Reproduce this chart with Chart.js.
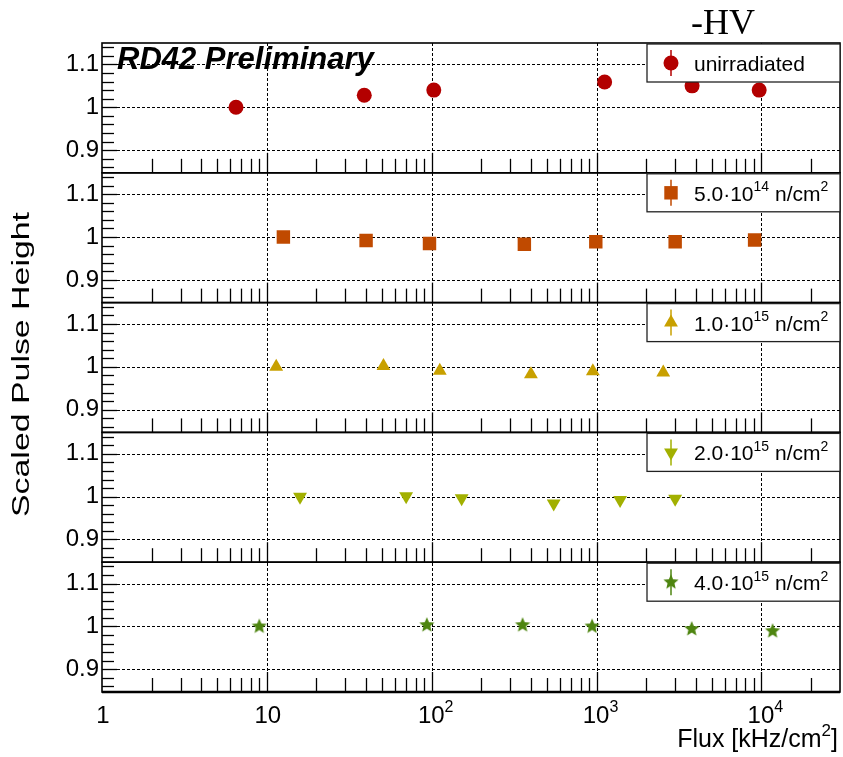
<!DOCTYPE html>
<html>
<head>
<meta charset="utf-8">
<title>Scaled pulse height vs flux</title>
<script src="https://cdn.jsdelivr.net/npm/chart.js@4.4.1/dist/chart.umd.min.js"></script>
<style>
  html, body { margin: 0; padding: 0; background: #fff; }
  canvas { display: block; }
</style>
</head>
<body>
<canvas id="phChart" width="843" height="757"></canvas>
<script>
// one panel per fluence, top to bottom
var fluenceLabels = ['unirradiated', '5.0·10^{14} n/cm^{2}', '1.0·10^{15} n/cm^{2}', '2.0·10^{15} n/cm^{2}', '4.0·10^{15} n/cm^{2}'];

// flux [kHz/cm2] and scaled pulse height
var fluxUnirr = [6.5, 39, 103, 1120, 3800, 9700];
var phUnirr   = [1.000, 1.028, 1.040, 1.059, 1.050, 1.040];
var flux5e14  = [12.6, 40, 97, 365, 990, 3000, 9100];
var ph5e14    = [1.000, 0.992, 0.985, 0.983, 0.989, 0.989, 0.993];
var flux1e15  = [11.4, 51, 112, 400, 950, 2540];
var ph1e15    = [1.000, 1.002, 0.991, 0.983, 0.990, 0.987];
var flux2e15  = [15.9, 70, 152, 550, 1390, 3000];
var ph2e15    = [1.000, 1.001, 0.996, 0.984, 0.992, 0.995];
var flux4e15  = [9.0, 93.5, 356, 940, 3780, 11700];
var ph4e15    = [1.000, 1.003, 1.003, 1.000, 0.994, 0.989];

var xTickValues = [1, 10, 100, 1000, 10000];
var xTickLabels = ['1', '10', '10^{2}', '10^{3}', '10^{4}'];
var yTickValues = [0.9, 1, 1.1];

var FONT = '"Liberation Sans", Arial, Helvetica, sans-serif';
var X_MIN = 1, X_MAX = 30000, Y_MIN = 0.847, Y_MAX = 1.15;

function starImage(color, r) {
    var c = document.createElement('canvas');
    c.width = c.height = 2 * r + 2;
    var g = c.getContext('2d');
    g.fillStyle = color;
    g.beginPath();
    for (var i = 0; i < 10; i++) {
        var a = -Math.PI / 2 + i * Math.PI / 5;
        var rr = i % 2 ? r * 0.45 : r;
        g.lineTo(c.width / 2 + rr * Math.cos(a), c.height / 2 + rr * Math.sin(a));
    }
    g.closePath();
    g.fill();
    return c;
}

var panels = [
    {flux: fluxUnirr, ph: phUnirr, color: '#b30000', style: 'circle', radius: 7.5, rot: 0},
    {flux: flux5e14, ph: ph5e14, color: '#c04a00', style: 'rect', radius: 9.5, rot: 0},
    {flux: flux1e15, ph: ph1e15, color: '#c8a000', style: 'triangle', radius: 8, rot: 0},
    {flux: flux2e15, ph: ph2e15, color: '#a2b000', style: 'triangle', radius: 8, rot: 180},
    {flux: flux4e15, ph: ph4e15, color: '#4e8510', style: starImage('#4e8510', 8), radius: 8, rot: 0}
];

// text with ^{...} superscripts
function richParts(str) {
    var parts = [], re = /\^\{([^}]*)\}/g, last = 0, m;
    while ((m = re.exec(str)) !== null) {
        if (m.index > last) parts.push({t: str.slice(last, m.index), sup: false});
        parts.push({t: m[1], sup: true});
        last = re.lastIndex;
    }
    if (last < str.length) parts.push({t: str.slice(last), sup: false});
    return parts;
}

function drawRich(ctx, str, x, y, size, align) {
    var parts = richParts(str), supSize = Math.round(size * 0.68), w = 0;
    parts.forEach(function(p) {
        ctx.font = (p.sup ? supSize : size) + 'px ' + FONT;
        p.w = ctx.measureText(p.t).width;
        w += p.w;
    });
    var cx = align === 'right' ? x - w : (align === 'center' ? x - w / 2 : x);
    ctx.textAlign = 'left';
    ctx.textBaseline = 'alphabetic';
    parts.forEach(function(p) {
        ctx.font = (p.sup ? supSize : size) + 'px ' + FONT;
        ctx.fillText(p.t, cx, p.sup ? y - size * 0.45 : y);
        cx += p.w;
    });
}

function line(ctx, x1, y1, x2, y2) {
    ctx.beginPath();
    ctx.moveTo(x1, y1);
    ctx.lineTo(x2, y2);
    ctx.stroke();
}

var panelPlugin = {
    id: 'panelDecor',
    beforeDatasetsDraw: function(chart) {
        var ctx = chart.ctx, xs = chart.scales.x, area = chart.chartArea;
        ctx.save();
        ctx.strokeStyle = '#000';
        // dotted grid
        ctx.lineWidth = 1;
        ctx.setLineDash([3, 2]);
        for (var i = 0; i < panels.length; i++) {
            var ys = chart.scales['y' + i];
            yTickValues.forEach(function(v) {
                var py = Math.round(ys.getPixelForValue(v)) + 0.5;
                line(ctx, area.left, py, area.right, py);
            });
        }
        xTickValues.forEach(function(v) {
            if (v <= X_MIN) return;
            var px = Math.round(xs.getPixelForValue(v)) + 0.5;
            line(ctx, px, area.top, px, area.bottom);
        });
        ctx.setLineDash([]);
        // ticks and frames, ROOT style
        for (var i = 0; i < panels.length; i++) {
            var ys = chart.scales['y' + i];
            ctx.lineWidth = 1.3;
            for (var d = 0; d <= 4; d++) {
                for (var k = 1; k <= 9; k++) {
                    var v = k * Math.pow(10, d);
                    if (v <= X_MIN || v >= X_MAX) continue;
                    var px = Math.round(xs.getPixelForValue(v)) + 0.5;
                    line(ctx, px, ys.bottom, px, ys.bottom - (k === 1 ? 20 : 14));
                }
            }
            for (var n = 43; n <= 57; n++) {
                var py = Math.round(ys.getPixelForValue(n * 0.02)) + 0.5;
                line(ctx, area.left, py, area.left + (n % 5 === 0 ? 15 : 12), py);
            }
            ctx.lineWidth = 1.6;
            ctx.strokeRect(area.left, ys.top, area.right - area.left, ys.bottom - ys.top);
        }
        ctx.lineWidth = 2.5;
        line(ctx, area.left, area.bottom, area.right, area.bottom);
        ctx.restore();
    },
    afterDatasetsDraw: function(chart) {
        var ctx = chart.ctx, xs = chart.scales.x, area = chart.chartArea;
        ctx.save();
        // legends
        for (var i = 0; i < panels.length; i++) {
            var ys = chart.scales['y' + i], p = panels[i], top = ys.top;
            ctx.fillStyle = '#fff';
            ctx.fillRect(647, top + 1, area.right - 647, 38);
            ctx.strokeStyle = '#222';
            ctx.lineWidth = 1.3;
            ctx.strokeRect(647, top + 1, area.right - 647, 38);
            ctx.strokeStyle = p.color;
            ctx.fillStyle = p.color;
            ctx.lineWidth = 1.5;
            line(ctx, 671, top + 7, 671, top + 33);
            Chart.helpers.drawPoint(ctx, {pointStyle: p.style, radius: p.radius, rotation: p.rot, borderWidth: 0}, 671, top + 20);
            ctx.fillStyle = '#000';
            drawRich(ctx, fluenceLabels[i], 694, top + 28, 21, 'left');
        }
        // x tick labels and titles
        ctx.fillStyle = '#000';
        xTickValues.forEach(function(v, j) {
            drawRich(ctx, xTickLabels[j], xs.getPixelForValue(v) + (j > 1 ? 4 : 1), 723, 24, 'center');
        });
        drawRich(ctx, 'Flux [kHz/cm^{2}]', 838, 747, 25, 'right');
        ctx.save();
        ctx.translate(29, 364.5);
        ctx.rotate(-Math.PI / 2);
        ctx.font = '23px ' + FONT;
        var tw = ctx.measureText('Scaled Pulse Height').width;
        ctx.scale(305 / tw, 1);
        ctx.textAlign = 'center';
        ctx.textBaseline = 'alphabetic';
        ctx.fillText('Scaled Pulse Height', 0, 0);
        ctx.restore();
        ctx.font = 'italic bold 31px ' + FONT;
        ctx.textAlign = 'left';
        ctx.fillText('RD42 Preliminary', 117, 69);
        ctx.font = '36px "Liberation Serif", "Times New Roman", serif';
        ctx.fillText('-HV', 691, 34);
        ctx.restore();
    }
};

var datasets = panels.map(function(p, i) {
    return {
        label: fluenceLabels[i],
        data: p.flux.map(function(f, j) { return {x: f, y: p.ph[j]}; }),
        yAxisID: 'y' + i,
        pointStyle: p.style,
        pointRadius: p.radius,
        pointHoverRadius: p.radius,
        pointRotation: p.rot,
        backgroundColor: p.color,
        borderColor: p.color,
        borderWidth: 0,
        showLine: false
    };
});

var scales = {
    x: {
        type: 'logarithmic', min: X_MIN, max: X_MAX,
        grid: {display: false, drawTicks: false},
        border: {display: false},
        ticks: {display: false},
        afterFit: function(scale) { scale.height = 65; }
    }
};
// stacked left axes are laid out bottom-up, so add the lowest panel first
for (var i = panels.length - 1; i >= 0; i--) {
    scales['y' + i] = {
        type: 'linear',
        position: 'left',
        stack: 'panels',
        stackWeight: 1,
        min: Y_MIN,
        max: Y_MAX,
        grid: {display: false, drawTicks: false},
        border: {display: false},
        afterBuildTicks: function(scale) {
            scale.ticks = yTickValues.map(function(v) { return {value: v}; });
        },
        afterFit: function(scale) { scale.width = 102; },
        ticks: {
            color: '#000',
            padding: 3,
            font: {family: FONT, size: 24},
            callback: function(v) { return String(v); }
        }
    };
}

new Chart(document.getElementById('phChart'), {
    type: 'scatter',
    data: {datasets: datasets},
    options: {
        responsive: false,
        animation: false,
        devicePixelRatio: 1,
        layout: {autoPadding: false, padding: {top: 43, right: 3, bottom: 0, left: 0}},
        plugins: {legend: {display: false}, tooltip: {enabled: false}},
        scales: scales
    },
    plugins: [panelPlugin]
});
</script>
</body>
</html>
